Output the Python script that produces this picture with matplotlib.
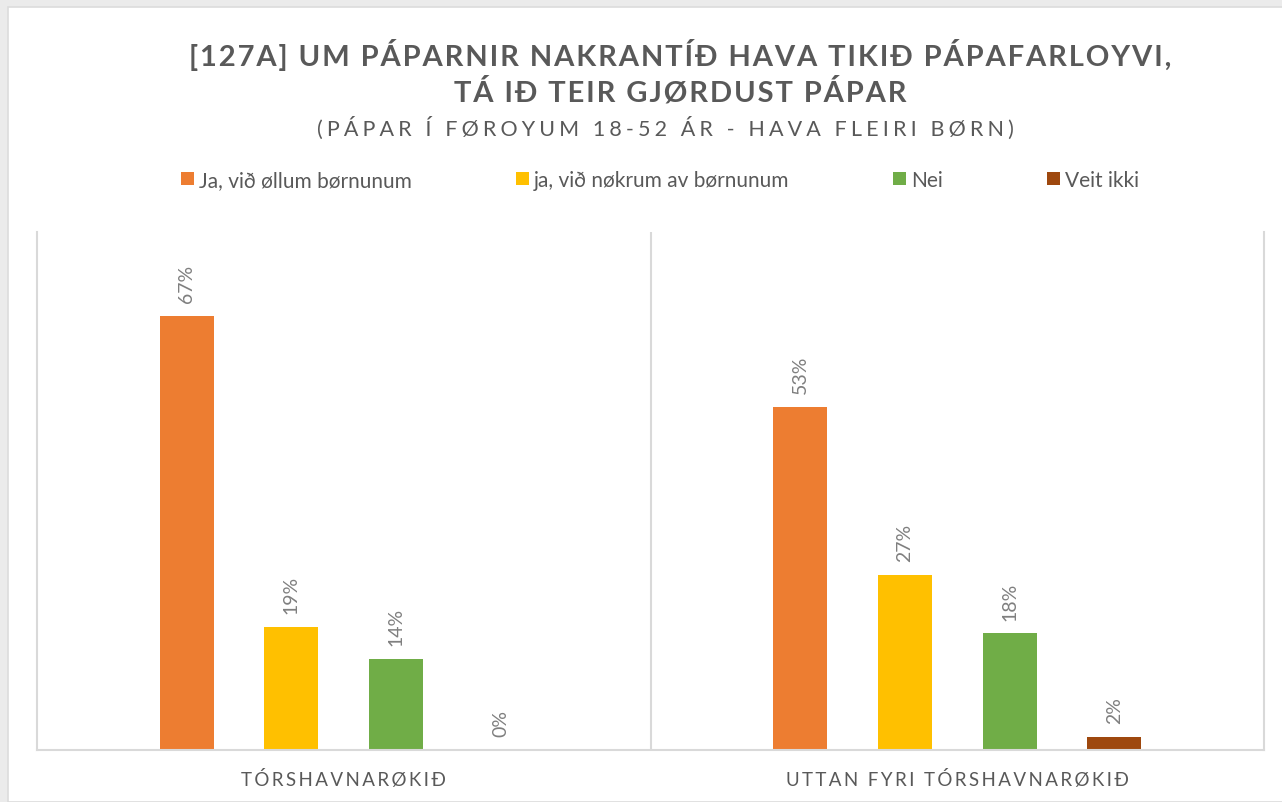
import numpy as np
import matplotlib.pyplot as plt
from matplotlib.patches import Rectangle

plt.rcParams['font.family'] = ['Lato', 'DejaVu Sans']

# Data
categories = ['TÓRSHAVNARØKIÐ', 'UTTAN FYRI TÓRSHAVNARØKIÐ']
series = ['Ja, við øllum børnunum', 'ja, við nøkrum av børnunum', 'Nei', 'Veit ikki']
values = {
    'Ja, við øllum børnunum': [67, 53],
    'ja, við nøkrum av børnunum': [19, 27],
    'Nei': [14, 18],
    'Veit ikki': [0, 2],
}
colors = ['#ED7D31', '#FFC000', '#70AD47', '#9E480E']

title1 = '[127A] UM PÁPARNIR NAKRANTÍÐ HAVA TIKIÐ PÁPAFARLOYVI,'
title2 = 'TÁ IÐ TEIR GJØRDUST PÁPAR'
subtitle = '(PÁPAR Í FØROYUM 18-52 ÁR - HAVA FLEIRI BØRN)'

TXT = '#595959'
GRID = '#d9d9d9'


def spaced(s, sep='\u200a'):
    return sep.join(s)


W, H = 1282, 803
fig = plt.figure(figsize=(W / 100, H / 100), dpi=100, facecolor='#ebebeb')
fig.patches.append(Rectangle((8 / W, 0), 1, 1 - 8 / H, transform=fig.transFigure,
                             facecolor='white', edgecolor='#dcdcdc', lw=1.2, zorder=-10))

ax = fig.add_axes([37 / W, 52 / H, (1264 - 37) / W, (751 - 233) / H])
ax.set_facecolor('none')

x = np.arange(len(categories))
step = 0.1705
width = 0.088
for i, (name, c) in enumerate(zip(series, colors)):
    vals = values[name]
    pos = x + (i - 1.5) * step
    ax.bar(pos, vals, width=width, color=c, label=name, zorder=2)
    for px, v in zip(pos, vals):
        ax.annotate(f'{v}%', (px, v), xytext=(0, 10), textcoords='offset points',
                    rotation=90, ha='center', va='bottom', fontsize=14,
                    color='#7f7f7f')

ax.set_xlim(-0.5, 1.5)
ax.set_ylim(0, 80)
ax.set_yticks([])
ax.set_xticks([])
ax.axvline(0.5, color=GRID, lw=1.5, zorder=1)
for side in ['left', 'right', 'bottom']:
    ax.spines[side].set_color(GRID)
    ax.spines[side].set_linewidth(1.5)
ax.spines['top'].set_visible(False)

for xi, cat in zip(x, categories):
    ax.text(xi, -0.055, spaced(cat, '\u2009'), transform=ax.get_xaxis_transform(),
            ha='center', va='center', fontsize=13.5, color=TXT)

fig.text(680 / W, 1 - 55 / H, spaced(title1), ha='center', va='center',
         fontsize=21, fontweight='bold', color=TXT)
fig.text(680 / W, 1 - 92 / H, spaced(title2), ha='center', va='center',
         fontsize=21, fontweight='bold', color=TXT)
fig.text(665 / W, 1 - 128 / H, spaced(subtitle, '\u2009\u200a'), ha='center',
         va='center', fontsize=15.5, color=TXT)

leg = fig.legend(loc='center', bbox_to_anchor=(660 / W, 1 - 181 / H), ncol=4,
                 frameon=False, fontsize=15, handlelength=0.6, handleheight=0.6,
                 handletextpad=0.25, columnspacing=5.0, labelcolor=TXT)

fig.savefig('out.png', dpi=100, facecolor=fig.get_facecolor())
